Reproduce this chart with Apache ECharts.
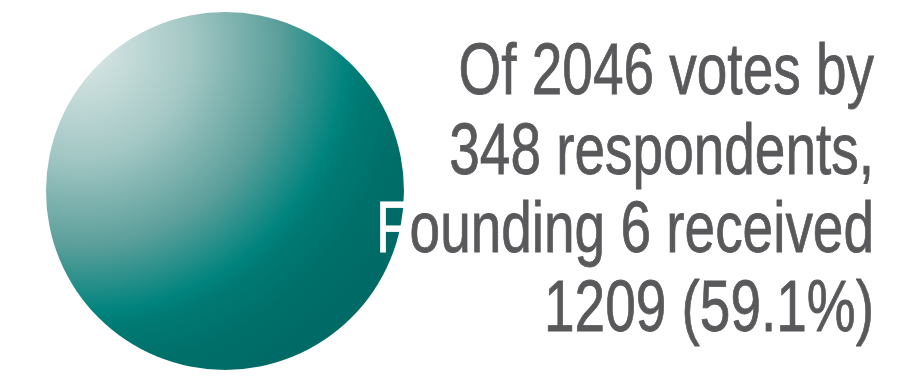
<!DOCTYPE html>
<html>
<head>
<meta charset="utf-8">
<script src="https://cdn.jsdelivr.net/npm/echarts@6/dist/echarts.min.js"></script>
<style>
html,body{margin:0;padding:0;background:#fff;}
#chart{width:923px;height:376px;}
</style>
</head>
<body>
<div id="chart"></div>
<script>
const totalVotes = 2046;
const respondents = 348;
const winnerName = 'Founding 6';
const winnerVotes = 1209;
const winnerPct = 59.1;

const lines = [
  'Of ' + totalVotes + ' votes by',
  respondents + ' respondents,',
  winnerName + ' received',
  winnerVotes + ' (' + winnerPct.toFixed(1) + '%)'
];

const FONT = 'Liberation Sans';
const SIZE = 72;
const TEXT_COLOR = '#59595c';

// horizontal condense factor so line 3 fits the reference width
const cv = document.createElement('canvas').getContext('2d');
cv.font = SIZE + 'px "' + FONT + '"';
const w3 = cv.measureText(lines[2]).width;
const sx = 498 / w3;

const baselines = [96, 176, 254, 333];
const rightX = 874;
const BASE_SHIFT = 14;

const chart = echarts.init(document.getElementById('chart'), null, {renderer: 'canvas'});

const graphics = lines.map(function (t, i) {
  const isThird = i === 2;
  return {
    type: 'text',
    x: rightX,
    y: baselines[i] + BASE_SHIFT,
    scaleX: sx,
    style: {
      text: isThird ? '{w|' + t.charAt(0) + '}' + t.slice(1) : t,
      fill: TEXT_COLOR,
      stroke: TEXT_COLOR,
      lineWidth: 0.8,
      fontFamily: FONT,
      fontSize: SIZE,
      textAlign: 'right',
      textVerticalAlign: 'bottom',
      rich: isThird ? { w: { fill: '#ffffff', stroke: '#ffffff', lineWidth: 0.8, fontSize: SIZE, fontFamily: FONT } } : undefined
    },
    z: 100
  };
});

chart.setOption({
  animation: false,
  backgroundColor: '#ffffff',
  series: [{
    type: 'pie',
    silent: true,
    center: [225, 191],
    radius: [0, 179],
    label: { show: false },
    labelLine: { show: false },
    itemStyle: {
      borderWidth: 0,
      color: {
        type: 'radial',
        x: 0.1, y: 0.1, r: 1,
        colorStops: [
          { offset: 0, color: '#dde9e8' },
          { offset: 0.3, color: '#a4c8c5' },
          { offset: 0.55, color: '#5c9f9b' },
          { offset: 0.74, color: '#00837d' },
          { offset: 0.78, color: '#007a74' },
          { offset: 0.9, color: '#006f6a' },
          { offset: 1, color: '#006b66' }
        ]
      }
    },
    data: [{ name: winnerName, value: winnerVotes }]
  }],
  graphic: graphics
});
</script>
</body>
</html>
